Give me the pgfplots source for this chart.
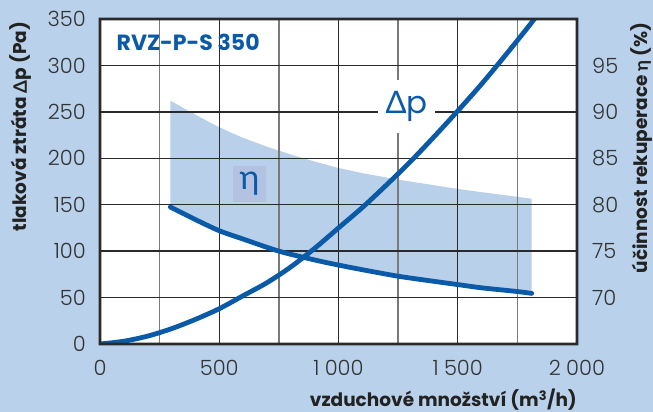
\documentclass[border=0pt]{standalone}
\usepackage{fontspec}
\setmainfont{Poppins}
\newfontfamily\tickfont{Poppins Light}
\newfontfamily\grk{Lato}
\usepackage{pgfplots}
\usepackage{pgfplotstable}
\pgfplotsset{compat=1.18}
\definecolor{bgblue}{HTML}{B9D1EA}
\definecolor{band}{HTML}{B9D0EA}
\definecolor{lineblue}{HTML}{0B5AA8}
\definecolor{etabox}{HTML}{B4C2E2}
\definecolor{ticktext}{HTML}{333333}
\definecolor{labtext}{HTML}{222222}
\definecolor{gridmaj}{HTML}{2A2A2A}
\definecolor{gridmin}{HTML}{7A7A7A}
% efficiency range (eta, %): upper edge then lower edge
\pgfplotstableread{
x eta
295 91.2
320 90.85
350 90.4
400 89.7
450 89.0
500 88.35
550 87.75
600 87.2
700 86.25
800 85.4
900 84.65
1000 83.95
1100 83.4
1250 82.7
1400 82.1
1500 81.7
1600 81.35
1750 80.85
1810 80.65
1810 70.45
1750 70.65
1600 71.05
1500 71.4
1400 71.75
1250 72.3
1100 73.0
1000 73.5
900 74.05
750 75.0
600 76.3
500 77.2
400 78.4
295 79.75
}\bandtab
% efficiency curve (eta, %)
\pgfplotstableread{
x eta
295 79.75
400 78.4
500 77.2
600 76.3
750 75.0
900 74.05
1000 73.5
1100 73.0
1250 72.3
1400 71.75
1500 71.4
1600 71.05
1750 70.65
1810 70.45
}\etatab
% pressure loss (Pa)
\pgfplotstableread{
x dp
0 0
100 3
200 8.5
300 16.5
400 26.5
500 38
600 52
700 66
800 83
900 103
1000 125
1100 147
1200 171
1300 196
1400 223
1500 251
1600 280
1700 311
1800 343
1850 360
}\dptab
\begin{document}
\begin{tikzpicture}
\fill[bgblue] (-100pt,-68pt) rectangle (553pt,344pt);
\fill[white] (0pt,0pt) rectangle (477pt,325pt);
\begin{axis}[
  at={(0pt,0pt)}, anchor=south west,
  width=477pt, height=325pt, scale only axis,
  xmin=0, xmax=2000, ymin=0, ymax=350,
  xtick={0,500,1000,1500,2000},
  xticklabels={0,500,1\kern0.25em000,1\kern0.25em500,2\kern0.25em000},
  ytick={0,50,...,350},
  tick style={draw=none},
  axis line style={draw=none},
  /pgf/number format/assume math mode=true,
  tick label style={font=\tickfont\fontsize{21}{21}\selectfont, text=ticktext, inner sep=0pt},
  xticklabel style={anchor=north, yshift=-16pt},
  yticklabel style={anchor=east, xshift=-14pt},
]
\addplot[fill=band, draw=none] table[x=x, y expr=(\thisrow{eta}-65)*10] {\bandtab} -- cycle;
% grid (thin filled strips)
\fill[gridmin] (axis cs:247.06,0) rectangle (axis cs:252.94,350);
\fill[gridmin] (axis cs:747.06,0) rectangle (axis cs:752.94,350);
\fill[gridmin] (axis cs:1247.06,0) rectangle (axis cs:1252.94,350);
\fill[gridmin] (axis cs:1747.06,0) rectangle (axis cs:1752.94,350);
\fill[gridmaj] (axis cs:497.06,0) rectangle (axis cs:502.94,350);
\fill[gridmaj] (axis cs:997.06,0) rectangle (axis cs:1002.94,350);
\fill[gridmaj] (axis cs:1497.06,0) rectangle (axis cs:1502.94,350);
\fill[gridmaj] (axis cs:0,49.25) rectangle (axis cs:2000,50.75);
\fill[gridmaj] (axis cs:0,99.25) rectangle (axis cs:2000,100.75);
\fill[gridmaj] (axis cs:0,149.25) rectangle (axis cs:2000,150.75);
\fill[gridmaj] (axis cs:0,199.25) rectangle (axis cs:2000,200.75);
\fill[gridmaj] (axis cs:0,249.25) rectangle (axis cs:2000,250.75);
\fill[gridmaj] (axis cs:0,299.25) rectangle (axis cs:2000,300.75);
% curves
\addplot[lineblue, line width=4.8pt, smooth, line cap=round] table[x=x, y expr=(\thisrow{eta}-65)*10] {\etatab};
\addplot[lineblue, line width=4.8pt, smooth] table[x=x, y=dp] {\dptab};
\end{axis}
% frame
\fill[gridmaj, even odd rule] (-1.4pt,-1.4pt) rectangle (478.4pt,326.4pt) (1.4pt,1.4pt) rectangle (475.6pt,323.6pt);
% right-hand scale (eta, %)
\begin{scope}[font=\tickfont\fontsize{21}{21}\selectfont, text=ticktext, inner sep=0pt]
\node[anchor=west] at (492pt,46.43pt) {70};
\node[anchor=west] at (492pt,92.86pt) {75};
\node[anchor=west] at (492pt,139.29pt) {80};
\node[anchor=west] at (492pt,185.71pt) {85};
\node[anchor=west] at (492pt,232.14pt) {90};
\node[anchor=west] at (492pt,278.57pt) {95};
\end{scope}
% labels
\node[anchor=base west, inner sep=0pt, text=lineblue, font=\bfseries\fontsize{22}{22}\selectfont] at (16.5pt,293.3pt) {RVZ-P-S 350};
\node[fill=white, minimum width=57pt, minimum height=53pt, inner sep=0pt, text=lineblue, font=\fontsize{31}{31}\selectfont] at (306.5pt,237.5pt) {{\grk Δ}p};
\node[fill=etabox, minimum width=33pt, minimum height=36pt, inner sep=0pt, text=lineblue, font=\grk\fontsize{34}{34}\selectfont] at (149.5pt,160pt) {η};
\node[rotate=90, inner sep=0pt, text=labtext, font=\bfseries\fontsize{18.5}{18.5}\selectfont] at (-79pt,217.5pt) {tlaková ztráta {\grk\bfseries Δ}p (Pa)};
\node[rotate=90, inner sep=0pt, text=labtext, font=\bfseries\fontsize{18.5}{18.5}\selectfont] at (542pt,196pt) {účinnost rekuperace {\grk\bfseries η} (\%)};
\node[anchor=base east, inner sep=0pt, text=labtext, font=\bfseries\fontsize{18.5}{18.5}\selectfont] at (477pt,-62.7pt) {vzduchové množství (m\textsuperscript{3}/h)};
\pgfresetboundingbox
\path[use as bounding box] (-100pt,-68pt) rectangle (553pt,344pt);
\end{tikzpicture}
\end{document}
